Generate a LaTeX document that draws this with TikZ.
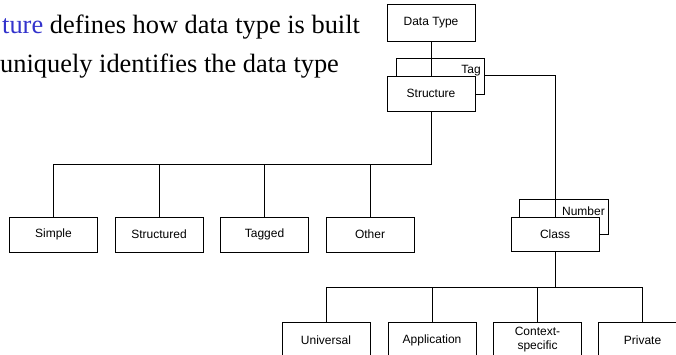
\documentclass[tikz,border=0pt]{standalone}
\usepackage{fontspec}
\setmainfont{Liberation Serif}
\newfontfamily\arialf{Liberation Sans}
\definecolor{slideblue}{RGB}{51,51,204}
\begin{document}
\begin{tikzpicture}[x=1pt,y=-1pt,
  box/.style={draw=black, fill=white, line width=0.8pt, minimum width=88pt, minimum height=35pt,
    inner sep=0pt, align=center, font=\arialf\fontsize{12}{14}\selectfont},
  conn/.style={draw=black, line width=1pt},
  lbl/.style={inner sep=0pt, font=\arialf\fontsize{12}{14}\selectfont},
  body/.style={inner sep=0pt, font=\fontsize{26.4}{30}\selectfont}]
\useasboundingbox (0,0) rectangle (676,354);
% text
\node[body, anchor=base west] (t1) at (2,33) {\textcolor{slideblue}{ture} defines how data type is built};
\node[body, anchor=base west] (t2) at (0,72) {uniquely identifies the data type};
% boxes
\node[box, minimum height=37pt] (dt) at (431,22.5) {Data Type};
\node[box, minimum height=36pt] (tagbox) at (440,76) {};
\node[lbl, anchor=base east] (tag) at (481,73.5) {Tag};
\node[box] (st) at (431,93.5) {Structure};
\node[box] (simple) at (53.5,234.5) {Simple};
\node[box] (structured) at (159,234.5) {Structured};
\node[box] (tagged) at (264.5,234.5) {Tagged};
\node[box] (other) at (370,234.5) {Other};
\node[box, minimum width=89pt] (numbox) at (563.5,216.5) {};
\node[lbl, anchor=base east] (num) at (605,215) {Number};
\coordinate (bar1) at (431,164);
\coordinate (bar2) at (555,287);
\draw[conn] (tagbox.east |- st.north) -| (555,217);
\node[box, minimum height=34pt] (class) at (555,234) {Class};
\node[box] (univ) at (326,340) {Universal};
\node[box] (app) at (432,340) {Application};
\node[box] (ctx) at (537.5,340) {Context-\\specific};
\node[box] (priv) at (642.5,340) {Private};
% connectors
\draw[conn] (dt.south) -- (st.north);
\draw[conn] (st.south) -- (bar1) -- (simple.north |- bar1) -- (simple.north);
\draw[conn] (structured.north |- bar1) -- (structured.north);
\draw[conn] (tagged.north |- bar1) -- (tagged.north);
\draw[conn] (other.north |- bar1) -- (other.north);
\draw[conn] (class.south) -- (bar2);
\draw[conn] (univ.north |- bar2) -- (priv.north |- bar2);
\draw[conn] (univ.north |- bar2) -- (univ.north);
\draw[conn] (app.north |- bar2) -- (app.north);
\draw[conn] (ctx.north |- bar2) -- (ctx.north);
\draw[conn] (priv.north |- bar2) -- (priv.north);
\end{tikzpicture}
\end{document}
